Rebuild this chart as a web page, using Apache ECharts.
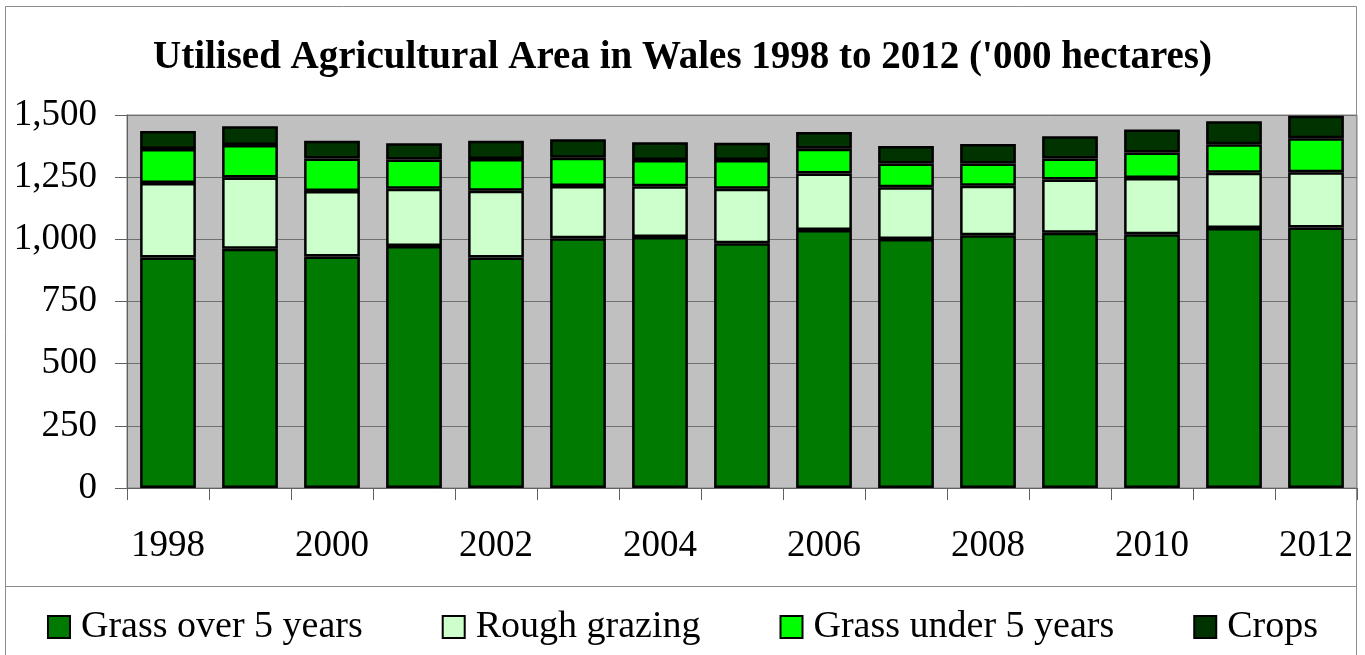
<!DOCTYPE html>
<html>
<head>
<meta charset="utf-8">
<title>Utilised Agricultural Area in Wales 1998 to 2012</title>
<script src="https://cdn.jsdelivr.net/npm/echarts@6/dist/echarts.min.js"></script>
<style>
  html, body { margin: 0; padding: 0; background: #ffffff; }
  #chart { width: 1365px; height: 655px; }
</style>
</head>
<body>
<div id="chart"></div>
<script>
// Years on the category axis
const years = ['1998', '1999', '2000', '2001', '2002', '2003', '2004', '2005',
               '2006', '2007', '2008', '2009', '2010', '2011', '2012'];

// Land use, thousand hectares
const grassOver5 = [927, 962, 931, 973, 927, 1004, 1009, 984, 1038, 1001, 1016, 1026, 1020, 1046, 1048];
const roughGrazing = [300, 287, 263, 230, 268, 210, 204, 219, 227, 208, 199, 215, 227, 222, 222];
const grassUnder5 = [136, 130, 131, 118, 128, 114, 106, 116, 99, 96, 90, 84, 102, 114, 136];
const crops = [73, 76, 71, 65, 73, 74, 71, 69, 68, 70, 78, 90, 93, 93, 91];

// Value axis ticks
const yTicks = [0, 250, 500, 750, 1000, 1250, 1500];

const serif = '"Liberation Serif", "Times New Roman", serif';

function stackSeries(name, data, color) {
  return {
    name: name,
    type: 'bar',
    stack: 'area',
    data: data,
    barWidth: '68%',
    itemStyle: { color: color, borderColor: '#000000', borderWidth: 2.5 }
  };
}

const chart = echarts.init(document.getElementById('chart'), null, { renderer: 'canvas' });

chart.setOption({
  animation: false,
  backgroundColor: '#ffffff',
  textStyle: { fontFamily: serif },
  title: {
    text: "Utilised Agricultural Area in Wales 1998 to 2012 ('000 hectares)",
    left: 'center',
    top: 33,
    textStyle: { fontFamily: serif, fontSize: 39, fontWeight: 'bold', color: '#000000' }
  },
  legend: {
    top: 603,
    left: 'center',
    itemWidth: 22,
    itemHeight: 22,
    itemGap: 79,
    icon: 'rect',
    textStyle: { fontFamily: serif, fontSize: 38, color: '#000000', padding: [0, 0, 0, 6] },
    data: ['Grass over 5 years', 'Rough grazing', 'Grass under 5 years', 'Crops']
  },
  grid: {
    left: 127,
    right: 8,
    top: 115,
    bottom: 167,
    show: true,
    backgroundColor: '#c0c0c0',
    borderColor: '#808080',
    borderWidth: 1
  },
  xAxis: {
    type: 'category',
    data: years,
    boundaryGap: true,
    axisLine: { show: true, lineStyle: { color: '#606060', width: 1 } },
    axisTick: { show: true, interval: 0, length: 12, lineStyle: { color: '#606060' } },
    axisLabel: { interval: 1, margin: 40, fontFamily: serif, fontSize: 37, color: '#000000' },
    splitLine: { show: false }
  },
  yAxis: {
    type: 'value',
    min: yTicks[0],
    max: yTicks[yTicks.length - 1],
    interval: yTicks[1] - yTicks[0],
    axisLine: { show: true, lineStyle: { color: '#606060', width: 1 } },
    axisTick: { show: true, length: 12, lineStyle: { color: '#606060' } },
    axisLabel: {
      margin: 30,
      fontFamily: serif,
      fontSize: 37,
      color: '#000000',
      formatter: function (v) { return v.toLocaleString('en-GB'); }
    },
    splitLine: { show: true, lineStyle: { color: '#707070', width: 1 } }
  },
  graphic: [
    {
      type: 'rect',
      silent: true,
      shape: { x: 5.5, y: 6.5, width: 1351, height: 660 },
      style: { fill: 'none', stroke: '#8c8c8c', lineWidth: 1 }
    },
    {
      type: 'line',
      silent: true,
      shape: { x1: 5, y1: 586.5, x2: 1357, y2: 586.5 },
      style: { stroke: '#8c8c8c', lineWidth: 1 }
    }
  ],
  series: [
    stackSeries('Grass over 5 years', grassOver5, '#007a00'),
    stackSeries('Rough grazing', roughGrazing, '#ccffcc'),
    stackSeries('Grass under 5 years', grassUnder5, '#00ff00'),
    stackSeries('Crops', crops, '#003300')
  ]
});
</script>
</body>
</html>
